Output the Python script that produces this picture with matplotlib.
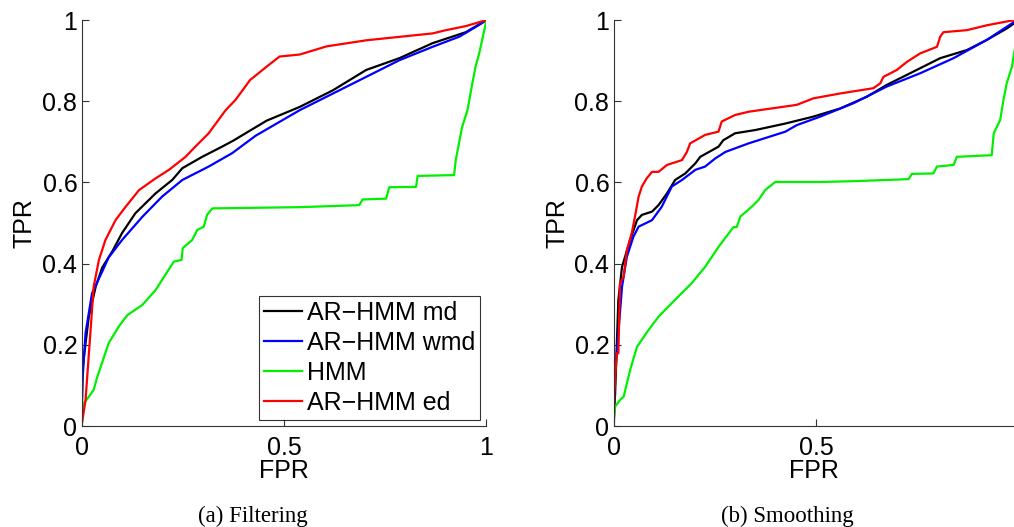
import matplotlib
matplotlib.use("Agg")
import matplotlib.pyplot as plt

# ---------------- Data ----------------
labels = ["AR\u2212HMM md", "AR\u2212HMM wmd", "HMM", "AR\u2212HMM ed"]
colors = ["#000000", "#0000ff", "#00f000", "#ff0000"]

# (a) Filtering
filt_md_x = [0, 0.003, 0.018, 0.035, 0.051, 0.076, 0.100, 0.133, 0.183, 0.224, 0.249, 0.298, 0.347, 0.375, 0.457, 0.539, 0.621, 0.703, 0.785, 0.867, 0.949, 1.0]
filt_md_y = [0, 0.146, 0.269, 0.343, 0.39, 0.43, 0.475, 0.524, 0.573, 0.606, 0.635, 0.663, 0.688, 0.703, 0.752, 0.786, 0.827, 0.877, 0.906, 0.943, 0.97, 1.0]

filt_wmd_x = [0, 0.002, 0.010, 0.026, 0.051, 0.067, 0.100, 0.150, 0.199, 0.249, 0.314, 0.372, 0.430, 0.539, 0.621, 0.703, 0.785, 0.867, 0.933, 0.982, 1.0]
filt_wmd_y = [0, 0.106, 0.229, 0.327, 0.38, 0.415, 0.458, 0.515, 0.565, 0.606, 0.639, 0.672, 0.715, 0.778, 0.819, 0.86, 0.901, 0.934, 0.959, 0.988, 1.0]

filt_hmm_x = [0, 0.006, 0.018, 0.030, 0.039, 0.067, 0.092, 0.113, 0.150, 0.183, 0.228, 0.247, 0.250, 0.273, 0.286, 0.302, 0.310, 0.323, 0.539, 0.686, 0.694, 0.752, 0.760, 0.826, 0.830, 0.920, 0.924, 0.932, 0.940, 0.953, 0.965, 0.973, 0.982, 0.991, 1.0]
filt_hmm_y = [0, 0.056, 0.072, 0.089, 0.121, 0.204, 0.245, 0.273, 0.298, 0.335, 0.405, 0.409, 0.438, 0.458, 0.483, 0.491, 0.52, 0.536, 0.539, 0.544, 0.558, 0.56, 0.588, 0.589, 0.616, 0.618, 0.655, 0.696, 0.737, 0.778, 0.844, 0.885, 0.918, 0.959, 1.0]

filt_ed_x = [0, 0.010, 0.022, 0.030, 0.043, 0.059, 0.084, 0.109, 0.142, 0.183, 0.216, 0.257, 0.281, 0.314, 0.356, 0.380, 0.400, 0.416, 0.457, 0.489, 0.539, 0.605, 0.703, 0.867, 0.900, 0.949, 1.0]
filt_ed_y = [0, 0.064, 0.23, 0.343, 0.409, 0.458, 0.507, 0.54, 0.581, 0.61, 0.631, 0.663, 0.688, 0.721, 0.778, 0.803, 0.83, 0.852, 0.885, 0.91, 0.915, 0.935, 0.95, 0.967, 0.975, 0.985, 1.0]

# (b) Smoothing
smooth_md_x = [0, 0.004, 0.012, 0.021, 0.041, 0.058, 0.070, 0.095, 0.111, 0.132, 0.152, 0.177, 0.202, 0.214, 0.259, 0.271, 0.300, 0.350, 0.424, 0.493, 0.559, 0.625, 0.674, 0.740, 0.806, 0.872, 0.921, 0.970, 1.0]
smooth_md_y = [0, 0.08, 0.31, 0.392, 0.458, 0.507, 0.52, 0.528, 0.544, 0.573, 0.606, 0.622, 0.647, 0.663, 0.688, 0.704, 0.721, 0.729, 0.745, 0.762, 0.782, 0.811, 0.84, 0.873, 0.906, 0.926, 0.951, 0.979, 1.0]

smooth_wmd_x = [0, 0.002, 0.008, 0.021, 0.033, 0.049, 0.062, 0.095, 0.119, 0.144, 0.169, 0.202, 0.226, 0.251, 0.276, 0.333, 0.424, 0.452, 0.510, 0.592, 0.674, 0.757, 0.839, 0.921, 0.988, 1.0]
smooth_wmd_y = [0, 0.121, 0.179, 0.343, 0.417, 0.466, 0.491, 0.507, 0.54, 0.59, 0.606, 0.631, 0.639, 0.659, 0.675, 0.696, 0.725, 0.741, 0.762, 0.795, 0.836, 0.869, 0.906, 0.951, 0.995, 1.0]

smooth_hmm_x = [0, 0.004, 0.016, 0.025, 0.041, 0.058, 0.086, 0.111, 0.144, 0.193, 0.226, 0.259, 0.296, 0.304, 0.313, 0.341, 0.358, 0.374, 0.399, 0.510, 0.592, 0.728, 0.736, 0.789, 0.798, 0.839, 0.847, 0.933, 0.938, 0.954, 0.962, 0.970, 0.983, 0.988, 1.0]
smooth_hmm_y = [0, 0.048, 0.064, 0.072, 0.138, 0.195, 0.236, 0.269, 0.303, 0.352, 0.392, 0.441, 0.49, 0.49, 0.516, 0.54, 0.557, 0.581, 0.601, 0.601, 0.603, 0.608, 0.621, 0.622, 0.639, 0.643, 0.663, 0.667, 0.721, 0.754, 0.803, 0.844, 0.885, 0.918, 0.97]

smooth_ed_x = [0, 0.001, 0.002, 0.008, 0.012, 0.016, 0.025, 0.033, 0.045, 0.053, 0.062, 0.070, 0.082, 0.095, 0.111, 0.132, 0.169, 0.181, 0.189, 0.226, 0.259, 0.267, 0.300, 0.333, 0.424, 0.452, 0.493, 0.559, 0.641, 0.658, 0.666, 0.699, 0.724, 0.757, 0.798, 0.806, 0.814, 0.872, 0.921, 0.979, 1.0]
smooth_ed_y = [0, 0.015, 0.08, 0.179, 0.179, 0.351, 0.368, 0.433, 0.475, 0.516, 0.565, 0.59, 0.61, 0.626, 0.626, 0.643, 0.655, 0.675, 0.696, 0.717, 0.725, 0.75, 0.766, 0.774, 0.787, 0.791, 0.807, 0.819, 0.832, 0.844, 0.86, 0.877, 0.897, 0.918, 0.934, 0.959, 0.97, 0.975, 0.987, 0.998, 1.0]

xticks = [0, 0.5, 1]
yticks = [0, 0.2, 0.4, 0.6, 0.8, 1]
ytick_labels = ["0", "0.2", "0.4", "0.6", "0.8", "1"]
xtick_labels = ["0", "0.5", "1"]
captions = ["(a) Filtering", "(b) Smoothing"]
xmax = [1.0, 0.988]

# ---------------- Plot ----------------
plt.rcParams['font.family'] = ['Liberation Sans', 'DejaVu Sans']
W, H = 1014, 527
fig = plt.figure(figsize=(W / 100, H / 100), dpi=100)

axA = fig.add_axes([81.5 / W, (H - 426) / H, 405 / W, 406 / H])
axB = fig.add_axes([613.5 / W, (H - 426) / H, 400.5 / W, 406 / H])

panels = [
    (axA, [(filt_md_x, filt_md_y), (filt_wmd_x, filt_wmd_y), (filt_hmm_x, filt_hmm_y), (filt_ed_x, filt_ed_y)]),
    (axB, [(smooth_md_x, smooth_md_y), (smooth_wmd_x, smooth_wmd_y), (smooth_hmm_x, smooth_hmm_y), (smooth_ed_x, smooth_ed_y)]),
]

for (ax, series), xm in zip(panels, xmax):
    for (x, y), c, lab in zip(series, colors, labels):
        ax.plot(x, y, color=c, lw=1.6, label=lab, solid_joinstyle='round')
    ax.set_xlim(0, xm)
    ax.set_ylim(0, 1)
    ax.spines['top'].set_visible(False)
    ax.spines['right'].set_visible(False)
    for s in ('left', 'bottom'):
        ax.spines[s].set_linewidth(0.8)
        ax.spines[s].set_color('#333333')
    ax.set_xticks([t for t in xticks if t <= xm])
    ax.set_xticklabels([l for t, l in zip(xticks, xtick_labels) if t <= xm])
    ax.set_yticks(yticks)
    ax.set_yticklabels(ytick_labels)
    ax.tick_params(direction='in', length=5, width=0.8, color='#333333', labelsize=18)
    ax.tick_params(axis='x', pad=7)
    ax.tick_params(axis='y', pad=3)
    ax.set_xlabel("FPR", fontsize=18)
    ax.set_ylabel("TPR", fontsize=18)
    ax.xaxis.set_label_coords(0.5, -0.082)
    ax.yaxis.set_label_coords(-0.111, 0.5)

leg = axA.legend(loc='lower right', fontsize=18, frameon=True, fancybox=False,
                 edgecolor='black', handlelength=1.5, handletextpad=0.2,
                 borderpad=0.2, labelspacing=0.24, borderaxespad=0.25)
leg.get_frame().set_linewidth(0.8)

fig.text(253 / W, 1 - 516 / H, captions[0], family='Liberation Serif', fontsize=16.5,
         ha='center', va='center')
fig.text(787 / W, 1 - 516 / H, captions[1], family='Liberation Serif', fontsize=16.5,
         ha='center', va='center')

fig.savefig("out.png", dpi=100)
